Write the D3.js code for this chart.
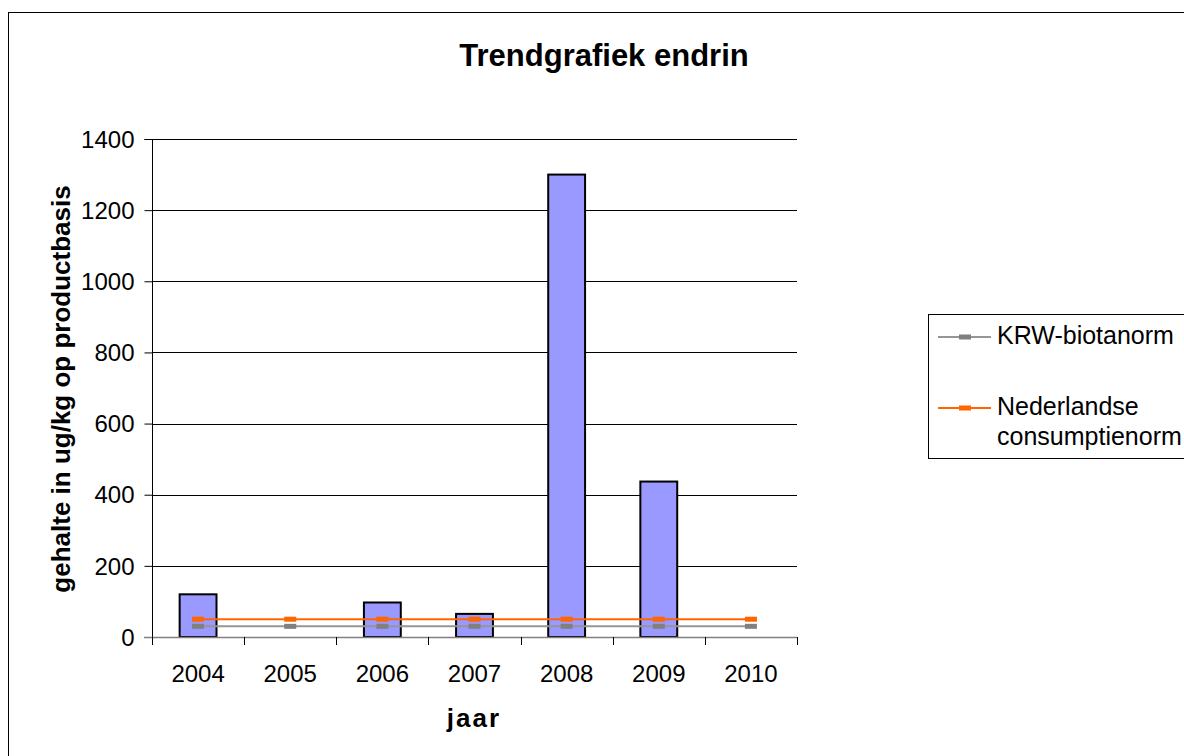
<!DOCTYPE html>
<html><head><meta charset="utf-8">
<script src="https://cdn.jsdelivr.net/npm/d3@7"></script>
<style>html,body{margin:0;padding:0;background:#fff;}svg{display:block;font-family:Arial,"Liberation Sans",sans-serif;}</style>
</head><body>
<script>
const years = ["2004","2005","2006","2007","2008","2009","2010"];
const endrin = [120, null, 97, 65, 1300, 437, null];
const krwNorm = [30, 30, 30, 30, 30, 30, 30];
const nlNorm = [50, 50, 50, 50, 50, 50, 50];
const yTicks = [0, 200, 400, 600, 800, 1000, 1200, 1400];
const title = "Trendgrafiek endrin";
const yTitle = "gehalte in ug/kg op productbasis";
const xTitle = "jaar";
const legendLabels = [["KRW-biotanorm"], ["Nederlandse", "consumptienorm"]];

const W = 1184, H = 756;
const m = {left: 152, right: 797, top: 139, bottom: 637};
const FONT = "Arial, 'Liberation Sans', sans-serif";
const svg = d3.select("body").append("svg").attr("width", W).attr("height", H);

// outer chart border
svg.append("rect").attr("x", 8.5).attr("y", 12.5).attr("width", W + 20).attr("height", H + 20)
  .attr("fill", "none").attr("stroke", "#000").attr("stroke-width", 1);

const x = d3.scaleBand().domain(years).range([m.left, m.right]).paddingInner(0).paddingOuter(0);
const y = d3.scaleLinear().domain([0, 1400]).range([m.bottom, m.top]);

// gridlines
svg.append("g").selectAll("line").data(yTicks.filter(d => d > 0)).join("line")
  .attr("x1", m.left).attr("x2", m.right)
  .attr("y1", d => Math.round(y(d)) + 0.5).attr("y2", d => Math.round(y(d)) + 0.5)
  .attr("stroke", "#000").attr("stroke-width", 1);

// bars
const bw = x.bandwidth() / 2.5;
svg.append("g").selectAll("rect").data(years.map((yr, i) => ({yr, v: endrin[i]})).filter(d => d.v != null)).join("rect")
  .attr("x", d => x(d.yr) + x.bandwidth() / 2 - bw / 2)
  .attr("y", d => y(d.v))
  .attr("width", bw)
  .attr("height", d => y(0) - y(d.v))
  .attr("fill", "#9999FF").attr("stroke", "#000").attr("stroke-width", 2);

// y axis
const yAxis = svg.append("g").attr("transform", `translate(${m.left + 0.5},0)`)
  .call(d3.axisLeft(y).tickValues(yTicks).tickSize(8).tickPadding(10).tickFormat(d3.format("d")));
yAxis.select(".domain").attr("stroke", "#000").attr("d", `M-8,${m.top + 0.5}H0V${m.bottom + 8}`);
yAxis.selectAll(".tick line").attr("stroke", "#000");
yAxis.selectAll("text").attr("font-size", 24).attr("fill", "#000").attr("font-family", FONT).attr("dy", "0.34em");

// x axis
const xAxis = svg.append("g").attr("transform", `translate(0,${m.bottom + 0.5})`)
  .call(d3.axisBottom(x).tickSize(0).tickPadding(27));
xAxis.select(".domain").attr("stroke", "#808080").attr("stroke-width", 1.5).attr("d", `M${m.left - 8},0H${m.right}`);
xAxis.selectAll("text").attr("font-size", 24).attr("fill", "#000").attr("font-family", FONT);
const xb = [...years.map(d => x(d)), m.right];
svg.append("g").selectAll("line").data(xb).join("line")
  .attr("x1", d => Math.round(d) + 0.5).attr("x2", d => Math.round(d) + 0.5)
  .attr("y1", m.bottom).attr("y2", m.bottom + 8).attr("stroke", "#000");

// norm lines
const cx = d => x(d) + x.bandwidth() / 2;
const series = [
  {vals: krwNorm, line: "#969696", mark: "#808080"},
  {vals: nlNorm, line: "#FF6600", mark: "#FF6600"}
];
series.forEach(s => {
  const pts = years.map((yr, i) => [cx(yr), y(s.vals[i])]);
  svg.append("path").attr("d", d3.line()(pts)).attr("fill", "none")
    .attr("stroke", s.line).attr("stroke-width", 2);
  svg.append("g").selectAll("rect").data(pts).join("rect")
    .attr("x", d => d[0] - 6).attr("y", d => d[1] - 2.5).attr("width", 12).attr("height", 5)
    .attr("fill", s.mark);
});

// titles
svg.append("text").attr("x", 604).attr("y", 66).attr("text-anchor", "middle")
  .attr("font-size", 31).attr("font-weight", "bold").text(title);
svg.append("text").attr("transform", `translate(70,389) rotate(-90)`)
  .attr("text-anchor", "middle").attr("font-size", 26).attr("font-weight", "bold").text(yTitle);
svg.append("text").attr("x", 474).attr("y", 727).attr("text-anchor", "middle")
  .attr("font-size", 26).attr("font-weight", "bold").attr("letter-spacing", 2).text(xTitle);

// legend
const lg = svg.append("g");
lg.append("rect").attr("x", 928.5).attr("y", 314.5).attr("width", 270).attr("height", 144)
  .attr("fill", "#fff").attr("stroke", "#000");
const lyPos = [337, 408];
series.forEach((s, i) => {
  lg.append("line").attr("x1", 938).attr("x2", 991).attr("y1", lyPos[i]).attr("y2", lyPos[i])
    .attr("stroke", s.line).attr("stroke-width", 2);
  lg.append("rect").attr("x", 959).attr("y", lyPos[i] - 2.5).attr("width", 12).attr("height", 5).attr("fill", s.mark);
  legendLabels[i].forEach((t, j) => {
    lg.append("text").attr("x", 997).attr("y", lyPos[i] + 7 + j * 30).attr("font-size", 25).text(t);
  });
});
</script>
</body></html>
